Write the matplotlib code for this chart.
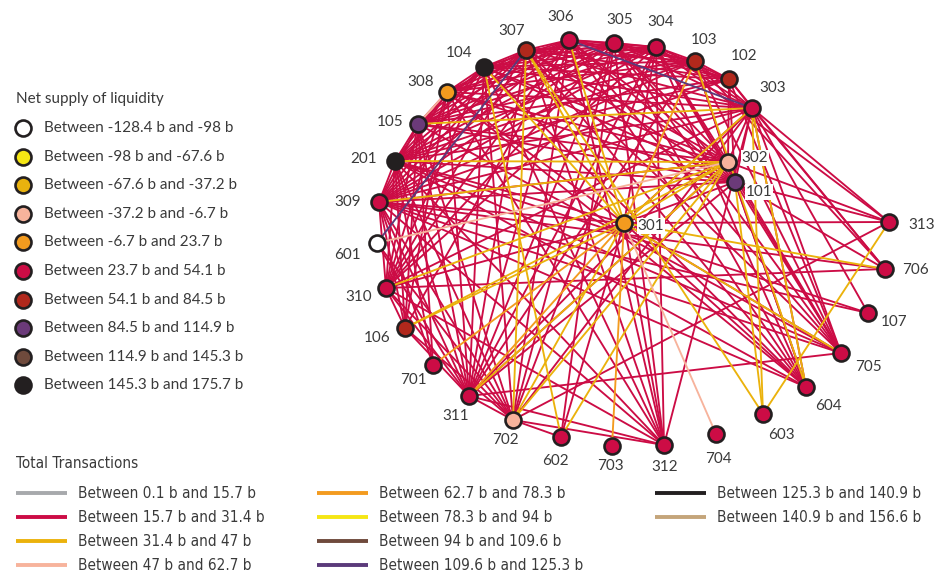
import matplotlib
matplotlib.use("Agg")
import matplotlib.pyplot as plt

# ---- node data (layout in pixel space of the original figure) ----
nodes = ['306', '305', '304', '103', '102', '303', '302', '101', '313', '706',
         '107', '705', '604', '603', '704', '312', '703', '602', '702', '311',
         '701', '106', '310', '601', '309', '201', '105', '308', '104', '307', '301']
node_x = [569, 614, 656, 695, 729, 752, 728, 735, 889, 885,
          868, 841, 806, 763, 716, 664, 612, 561, 513, 469,
          433, 405, 386, 377, 379, 395, 418, 447, 484, 526, 624]
node_y = [40, 43, 47, 61, 79, 108, 162, 182, 222, 269,
          313, 353, 387, 414, 434, 445, 446, 437, 420, 396,
          365, 328, 288, 243, 202, 161, 124, 92, 67, 50, 223]
label_x = [561, 620, 661, 704, 744, 773, 755, 759, 922, 915,
           894, 868, 828, 781, 718, 665, 610, 555, 505, 456,
           413, 377, 359, 347, 348, 364, 390, 421, 459, 512, 651]
label_y = [17, 20, 22, 40, 56, 88, 158, 192, 225, 270,
           322, 367, 406, 435, 459, 467, 466, 461, 440, 416,
           380, 338, 297, 255, 202, 159, 122, 82, 53, 31, 226]
# net supply class index (0..9)
node_class = [5, 5, 5, 6, 6, 5, 3, 7, 5, 5,
              5, 5, 5, 5, 5, 5, 5, 5, 3, 5,
              5, 6, 5, 0, 5, 9, 7, 4, 9, 6, 4]

supply_labels = ["Between -128.4 b and -98 b", "Between -98 b and -67.6 b",
                 "Between -67.6 b and -37.2 b", "Between -37.2 b and -6.7 b",
                 "Between -6.7 b and 23.7 b", "Between 23.7 b and 54.1 b",
                 "Between 54.1 b and 84.5 b", "Between 84.5 b and 114.9 b",
                 "Between 114.9 b and 145.3 b", "Between 145.3 b and 175.7 b"]
supply_colors = ["#ffffff", "#f5e614", "#e9b20e", "#f7b39c", "#f39b1f",
                 "#cc0c45", "#b1281c", "#6b3a79", "#6f4a3c", "#231f20"]

flow_labels = ["Between 0.1 b and 15.7 b", "Between 15.7 b and 31.4 b",
               "Between 31.4 b and 47 b", "Between 47 b and 62.7 b",
               "Between 62.7 b and 78.3 b", "Between 78.3 b and 94 b",
               "Between 94 b and 109.6 b", "Between 109.6 b and 125.3 b",
               "Between 125.3 b and 140.9 b", "Between 140.9 b and 156.6 b"]
flow_colors = ["#a7a9ac", "#cc0c45", "#ebb20c", "#f7b39c", "#f39b1f",
               "#f5e614", "#6f4a3c", "#5b3a7a", "#231f20", "#c4a57a"]

# ---- edges: (source, target) per transaction class ----
edges_crimson = {
    '306': ['305', '304', '103', '102', '302', '101', '307', '104', '308', '105', '201',
            '309', '310', '311', '702', '312', '604', '705', '106'],
    '305': ['304', '103', '102', '303', '302', '101', '307', '104', '308', '105', '201',
            '309', '311', '702', '602', '312', '604', '705', '310'],
    '304': ['103', '102', '303', '302', '101', '301', '307', '104', '308', '105', '201',
            '309', '310', '311', '702', '312', '313', '705', '604'],
    '103': ['102', '303', '302', '101', '307', '104', '308', '105', '201', '309', '311',
            '706', '705'],
    '102': ['303', '302', '101', '307', '104', '105', '201', '309', '706', '705'],
    '303': ['302', '101', '301', '307', '104', '308', '201', '309', '310', '311', '702',
            '313', '706', '107', '705', '604', '312'],
    '302': ['101', '307', '104', '308', '105', '309', '311', '313', '705', '604'],
    '101': ['301', '307', '104', '308', '105', '201', '309', '311', '313', '706', '705', '604'],
    '301': ['308', '201', '309', '310', '312', '313', '705', '604', '602'],
    '307': ['104', '308', '105', '201', '309', '310', '311', '312', '705', '604'],
    '104': ['308', '105', '201', '309', '310', '311', '702', '312', '604'],
    '308': ['105', '201', '309', '310', '311', '106', '312', '604'],
    '105': ['201', '309', '310', '311', '106', '701', '702', '705'],
    '201': ['309', '310', '106', '701', '311', '702', '312', '107', '705', '604'],
    '309': ['310', '106', '701', '311', '702', '312', '705', '604', '107', '706'],
    '310': ['311', '702', '312', '706', '106'],
    '106': ['311', '702'],
    '311': ['702', '312', '705'],
    '702': ['312', '602', '313'],
    '601': ['311', '702'],
}
edges_gold = [('201', '302'), ('105', '303'), ('301', '302'), ('301', '303'), ('301', '306'),
              ('301', '307'), ('301', '104'), ('301', '702'), ('301', '706'),
              ('301', '705'), ('301', '106'), ('302', '311'), ('302', '702'), ('302', '602'),
              ('302', '106'), ('302', '310'), ('313', '603'), ('104', '602'), ('307', '603'),
              ('103', '604'), ('303', '604'), ('101', '603'), ('307', '702'),
              ('303', '603'), ('302', '309')]
edges_orange = [('301', '703'), ('301', '701'), ('301', '103'), ('301', '311')]
edges_peach = [('601', '302'), ('301', '704'), ('308', '105')]
edges_purple = [('307', '601'), ('306', '303')]

pos = {n: (x, y) for n, x, y in zip(nodes, node_x, node_y)}

fig = plt.figure(figsize=(9.49, 5.79), dpi=100)
ax = fig.add_axes([0, 0, 1, 1])
ax.set_xlim(0, 949)
ax.set_ylim(579, 0)
ax.axis('off')

font = ['Lato', 'DejaVu Sans']
text_color = '#3a3a3a'


def draw_edges(pairs, color, lw=1.35, z=1):
    for a, b in pairs:
        ax.plot([pos[a][0], pos[b][0]], [pos[a][1], pos[b][1]],
                color=color, lw=lw, solid_capstyle='round', zorder=z)


crimson_pairs = [(a, b) for a, bs in edges_crimson.items() for b in bs]
draw_edges(crimson_pairs, flow_colors[1], z=1)
draw_edges(edges_gold, flow_colors[2], z=2)
draw_edges(edges_orange, flow_colors[4], z=2)
draw_edges(edges_peach, flow_colors[3], z=2)
draw_edges(edges_purple, flow_colors[7], z=2)

# nodes
for n, c in zip(nodes, node_class):
    ax.plot(pos[n][0], pos[n][1], 'o', ms=11.5, mfc=supply_colors[c],
            mec='#231f20', mew=1.9, zorder=4)

for n, lx, ly in zip(nodes, label_x, label_y):
    ax.text(lx, ly, n, ha='center', va='center', fontsize=11, family=font,
            color=text_color, zorder=5,
            bbox=dict(boxstyle='square,pad=0.05', fc='white', ec='none'))

# ---- node legend ----
ax.text(16, 99, "Net supply of liquidity", ha='left', va='center', fontsize=11,
        family=font, color=text_color)
for i, (lab, c) in enumerate(zip(supply_labels, supply_colors)):
    y = 128 + i * 28.6
    ax.plot(23, y, 'o', ms=11.5, mfc=c, mec='#231f20', mew=1.9)
    ax.text(44, y, lab, ha='left', va='center', fontsize=11, family=font,
            color=text_color)

# ---- edge legend ----
ax.text(16, 463, "Total Transactions", ha='left', va='center', fontsize=11,
        family='DejaVu Sans', stretch='condensed', color=text_color)
col_x = [16, 317, 655]
for i, (lab, c) in enumerate(zip(flow_labels, flow_colors)):
    col, row = divmod(i, 4)
    y = 493 + row * 24
    x0 = col_x[col]
    ax.plot([x0, x0 + 51], [y, y], color=c, lw=2.8, solid_capstyle='butt')
    ax.text(x0 + 62, y, lab, ha='left', va='center', fontsize=11,
            family='DejaVu Sans', stretch='condensed', color=text_color)

fig.savefig("out.png", dpi=100)
